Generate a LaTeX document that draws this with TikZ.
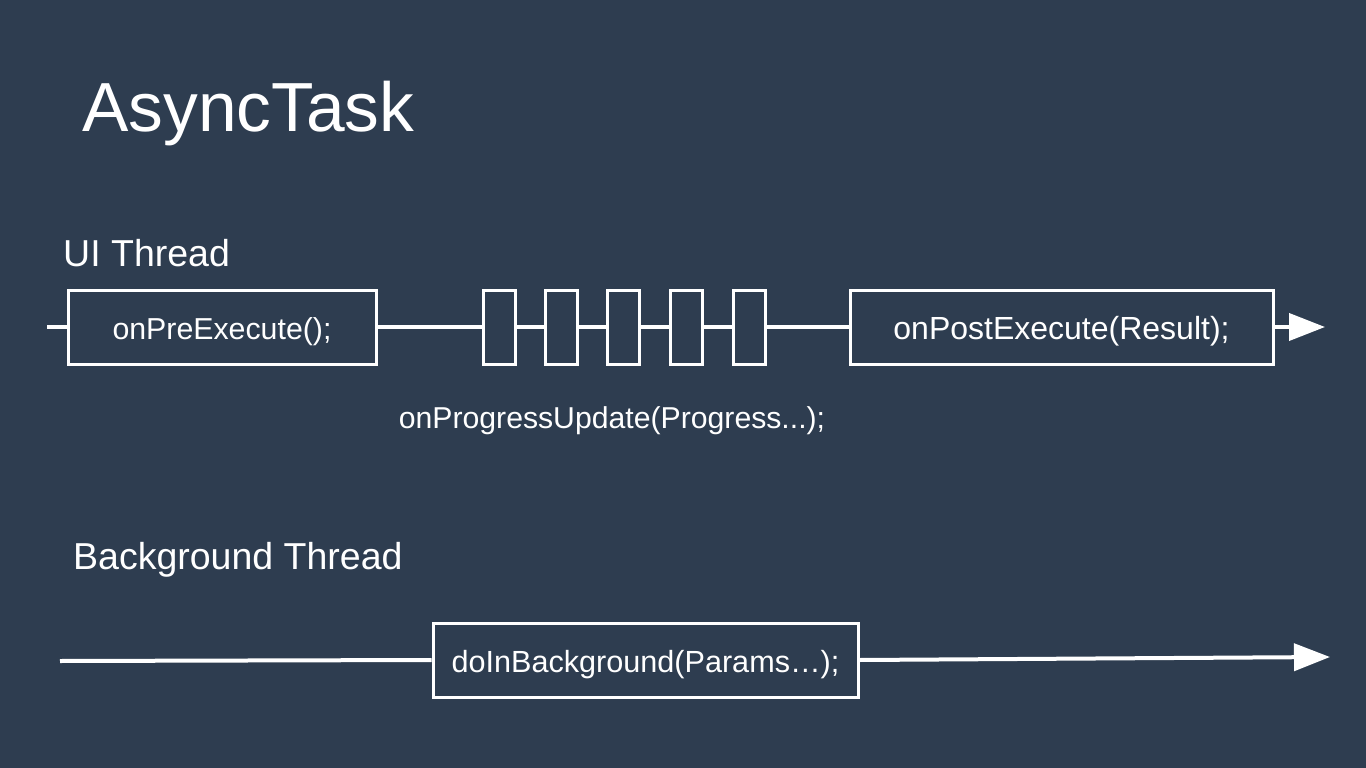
\documentclass[tikz,border=0pt]{standalone}
\usepackage{fontspec}
\setmainfont{Liberation Sans}
\usetikzlibrary{arrows.meta}
\definecolor{bgc}{HTML}{2E3D50}
\tikzset{
  lbl/.style={text=white, inner sep=0pt, anchor=base west},
  box/.style={draw=white, line width=3pt, inner sep=0pt, text=white, font=\fontsize{30.3}{36}\selectfont, minimum height=74pt, text height=26pt, text depth=2pt},
  pbox/.style={draw=white, line width=3pt, inner sep=0pt, minimum width=32pt, minimum height=74pt},
  wire/.style={draw=white, line width=4pt},
  tip/.style={-{Triangle[length=36pt,width=27pt]}}
}
\begin{document}
\begin{tikzpicture}[x=1pt,y=-1pt]
\fill[bgc] (0,0) rectangle (1366,768);
\useasboundingbox (0,0) rectangle (1366,768);
\node[lbl, font=\fontsize{69.5}{80}\selectfont] (title) at (82,131) {AsyncTask};
\node[lbl, font=\fontsize{37.5}{44}\selectfont] (ui) at (63,266) {UI Thread};
\node[lbl, font=\fontsize{37.5}{44}\selectfont] (bgt) at (73,569) {Background Thread};
% UI thread
\coordinate (uistart) at (47,327);
\coordinate (uiend) at (1325,327);
\node[box, minimum width=308pt] (pre) at (222,327) {onPreExecute();};
\node[pbox] (p1) at (499,327) {};
\node[pbox] (p2) at (561.5,327) {};
\node[pbox] (p3) at (623.5,327) {};
\node[pbox] (p4) at (686.5,327) {};
\node[pbox] (p5) at (749,327) {};
\node[box, minimum width=423pt, font=\fontsize{32}{38}\selectfont] (post) at (1061.5,327) {onPostExecute(Result);};
\draw[wire] (uistart) -- (pre.west);
\draw[wire] (pre.east) -- (p1.west);
\draw[wire] (p1.east) -- (p2.west);
\draw[wire] (p2.east) -- (p3.west);
\draw[wire] (p3.east) -- (p4.west);
\draw[wire] (p4.east) -- (p5.west);
\draw[wire] (p5.east) -- (post.west);
\draw[wire, tip] (post.east) -- (uiend);
\node[text=white, inner sep=0pt, anchor=base, font=\fontsize{30.2}{36}\selectfont] (prog) at (612,428) {onProgressUpdate(Progress...);};
% Background thread
\coordinate (bgstart) at (60,661);
\coordinate (bgend) at (1330,657);
\node[box, minimum width=425pt, font=\fontsize{30.6}{36}\selectfont] (bg) at (645.5,660) {doInBackground(Params…);};
\draw[wire] (bgstart) -- (bg.west);
\draw[wire, tip] (bg.east) -- (bgend);
\end{tikzpicture}
\end{document}
